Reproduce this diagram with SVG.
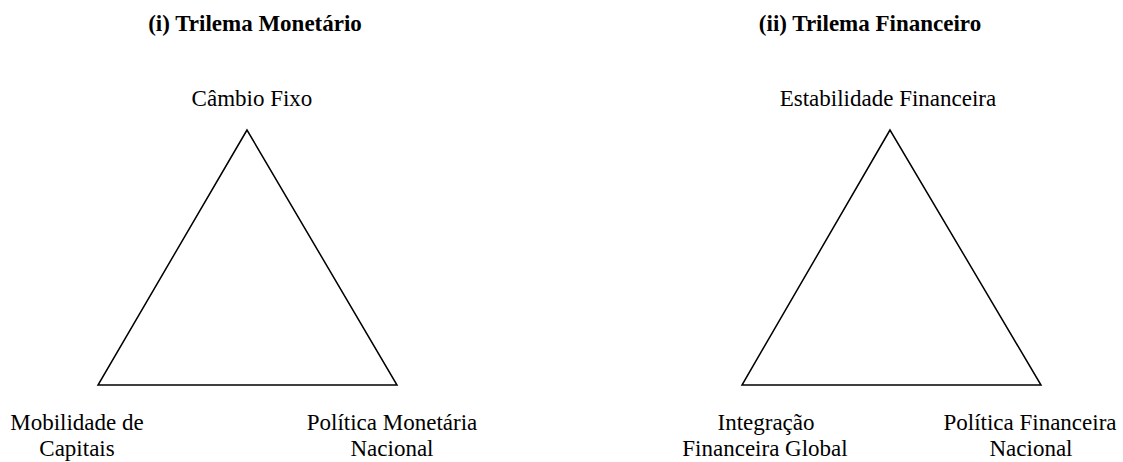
<svg xmlns="http://www.w3.org/2000/svg" width="1123" height="462" viewBox="0 0 1123 462">
<style>
.t{font-family:"Liberation Serif","Times New Roman",serif;font-size:23px;fill:#000;text-anchor:middle}
.h{font-weight:bold}
.tri{fill:none;stroke:#000;stroke-width:1.5;stroke-linejoin:miter}
</style>
<rect width="1123" height="462" fill="#fff"/>
<g id="title1"><text class="t h" x="255" y="31">(i) Trilema Monetário</text></g>
<g id="title2"><text class="t h" x="870" y="31">(ii) Trilema Financeiro</text></g>
<g id="connectors">
<polygon class="tri" points="247,130 98,385 397,385"/>
<polygon class="tri" points="890,130 742,385 1041,385"/>
</g>
<g id="cambio"><text class="t" x="252" y="106">Câmbio Fixo</text></g>
<g id="mobilidade"><text class="t" x="77" y="430">Mobilidade de</text><text class="t" x="77" y="456">Capitais</text></g>
<g id="politicaMon"><text class="t" x="392" y="430">Política Monetária</text><text class="t" x="392" y="456">Nacional</text></g>
<g id="estabilidade"><text class="t" x="888" y="106">Estabilidade Financeira</text></g>
<g id="integracao"><text class="t" x="766" y="430">Integração</text><text class="t" x="765" y="456">Financeira Global</text></g>
<g id="politicaFin"><text class="t" x="1030" y="430">Política Financeira</text><text class="t" x="1031" y="456">Nacional</text></g>
</svg>
